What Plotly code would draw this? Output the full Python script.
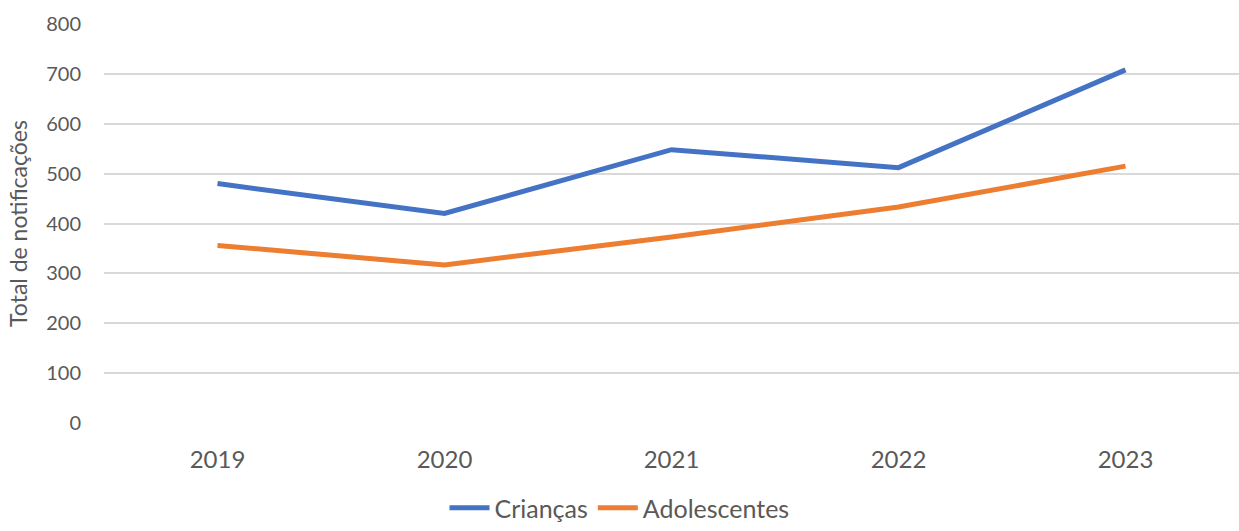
import plotly.graph_objects as go

years = ["2019", "2020", "2021", "2022", "2023"]
criancas = [480, 420, 548, 512, 708]
adolescentes = [356, 317, 373, 433, 515]

font_family = "Lato, 'Open Sans', sans-serif"
gray = "#595959"

fig = go.Figure()
fig.add_trace(go.Scatter(x=years, y=criancas, mode="lines", name="Crianças",
                         line=dict(color="#4472C4", width=5)))
fig.add_trace(go.Scatter(x=years, y=adolescentes, mode="lines", name="Adolescentes",
                         line=dict(color="#ED7D31", width=5)))

fig.update_layout(
    width=1239, height=531,
    margin=dict(l=104, r=0, t=24, b=108, autoexpand=False),
    plot_bgcolor="white", paper_bgcolor="white",
    font=dict(family=font_family, color=gray),
    showlegend=True,
    legend=dict(orientation="h", x=0.5, xanchor="center", xref="container",
                y=-0.015, yanchor="bottom", yref="container",
                font=dict(size=25, color=gray), itemwidth=40, tracegroupgap=0),
    xaxis=dict(type="category", range=[-0.5, 4.5], showgrid=False, zeroline=False,
               showline=False, ticks="", tickfont=dict(size=24, color=gray),
               ticklabelstandoff=20),
    yaxis=dict(range=[0, 800], dtick=100, showgrid=True, gridcolor="#d9d9d9",
               gridwidth=1.5, zeroline=False, showline=False, ticks="",
               tickfont=dict(size=20, color=gray), ticklabelstandoff=22,
               title=dict(text="Total de notificações", font=dict(size=23, color=gray),
                          standoff=12)),
)

fig.write_html("out.html")
